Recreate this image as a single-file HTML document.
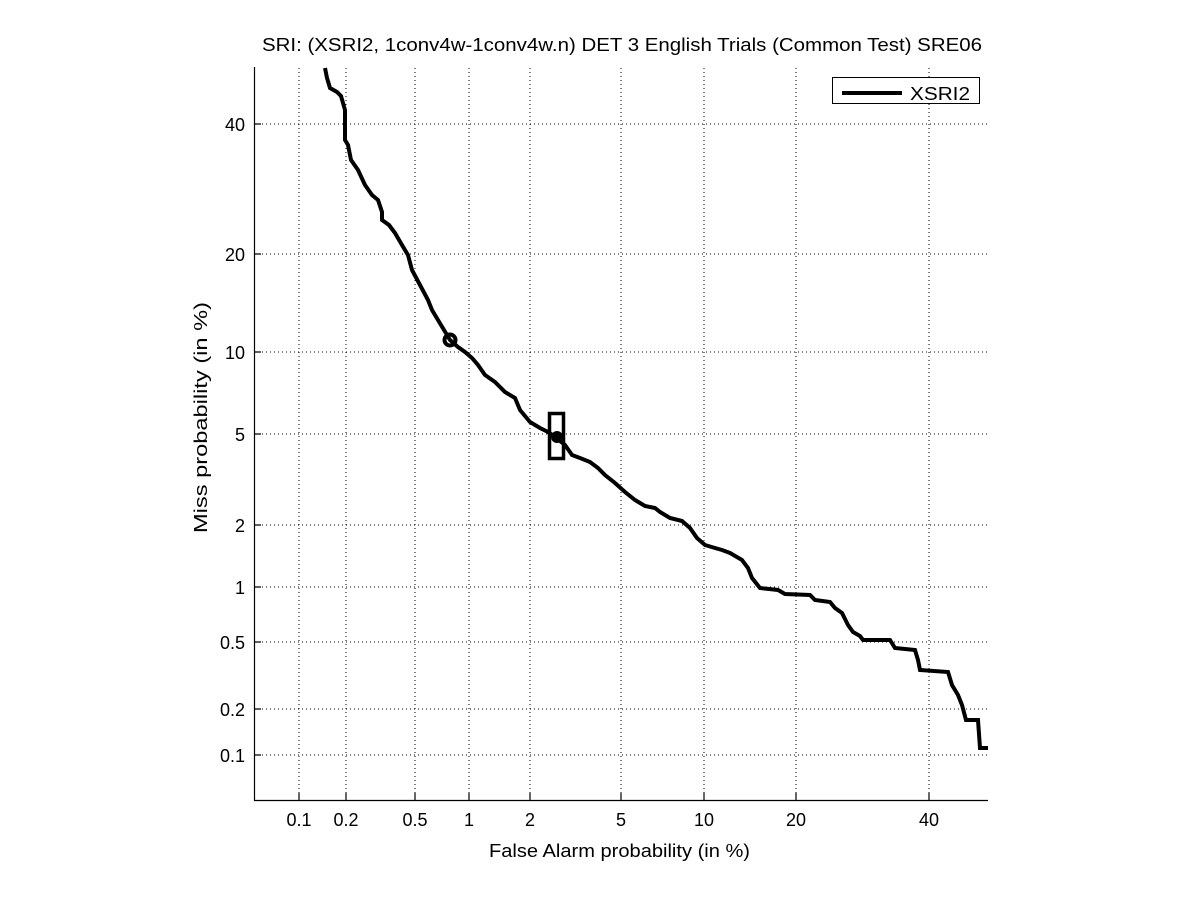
<!DOCTYPE html>
<html><head><meta charset="utf-8"><style>body{margin:0;background:#fff}svg{display:block}text{font-family:"Liberation Sans",sans-serif;fill:#000}</style></head>
<body>
<svg width="1201" height="900" viewBox="0 0 1201 900">
<g stroke="#000" stroke-width="1" stroke-dasharray="1,3">
<line x1="299" y1="68" x2="299" y2="800"/><line x1="346" y1="68" x2="346" y2="800"/><line x1="415" y1="68" x2="415" y2="800"/><line x1="469" y1="68" x2="469" y2="800"/><line x1="530" y1="68" x2="530" y2="800"/><line x1="621" y1="68" x2="621" y2="800"/><line x1="704" y1="68" x2="704" y2="800"/><line x1="796" y1="68" x2="796" y2="800"/><line x1="929" y1="68" x2="929" y2="800"/>
<line x1="254" y1="124" x2="988" y2="124"/><line x1="254" y1="254" x2="988" y2="254"/><line x1="254" y1="352" x2="988" y2="352"/><line x1="254" y1="434" x2="988" y2="434"/><line x1="254" y1="525" x2="988" y2="525"/><line x1="254" y1="587" x2="988" y2="587"/><line x1="254" y1="642" x2="988" y2="642"/><line x1="254" y1="709" x2="988" y2="709"/><line x1="254" y1="755" x2="988" y2="755"/>
</g>
<g stroke="#000" stroke-width="1.2" fill="none">
<path d="M254.5 67V800.5H988"/>
<path d="M254 124h7M254 254h7M254 352h7M254 434h7M254 525h7M254 587h7M254 642h7M254 709h7M254 755h7"/>
<path d="M299 800v-7M346 800v-7M415 800v-7M469 800v-7M530 800v-7M621 800v-7M704 800v-7M796 800v-7M929 800v-7"/>
</g>
<g font-size="18" text-anchor="end">
<text x="245" y="131">40</text><text x="245" y="261">20</text><text x="245" y="359">10</text><text x="245" y="441">5</text><text x="245" y="532">2</text><text x="245" y="594">1</text><text x="245" y="649">0.5</text><text x="245" y="716">0.2</text><text x="245" y="762">0.1</text>
</g>
<g font-size="18" text-anchor="middle">
<text x="299" y="826">0.1</text><text x="346" y="826">0.2</text><text x="415" y="826">0.5</text><text x="469" y="826">1</text><text x="530" y="826">2</text><text x="621" y="826">5</text><text x="704" y="826">10</text><text x="796" y="826">20</text><text x="929" y="826">40</text>
</g>
<text x="489" y="857" font-size="18" textLength="261" lengthAdjust="spacingAndGlyphs">False Alarm probability (in %)</text>
<text x="262" y="51" font-size="18" textLength="720" lengthAdjust="spacingAndGlyphs">SRI: (XSRI2, 1conv4w-1conv4w.n) DET 3 English Trials (Common Test) SRE06</text>
<text transform="translate(207,533) rotate(-90)" font-size="18" textLength="231" lengthAdjust="spacingAndGlyphs">Miss probability (in %)</text>
<polyline fill="none" stroke="#000" stroke-width="4" stroke-linejoin="miter" points="325,68 327,78 330,88 337,92 341,96 345,110 345,140 348,145 351,160 358,170 365,185 372,195 378,200 382,212 382,220 389,225 395,233 402,245 408,255 412,270 420,285 428,300 432,310 438,320 444,330 450,340 458,347 465,352 472,358 478,365 485,375 495,382 505,392 515,398 520,410 530,422 540,428 548,432 555,437 565,445 572,455 580,458 590,462 598,468 605,475 615,483 625,492 635,500 645,506 655,508 660,512 670,518 682,521 690,528 697,538 705,545 715,548 722,550 730,553 742,560 748,568 752,578 760,588 778,590 785,594 810,595 815,600 830,602 835,608 842,613 848,625 853,632 860,636 863,640 890,640 895,648 915,650 918,660 920,670 948,672 952,685 958,695 962,705 966,720 978,720 980,748 988,748"/>
<circle cx="450" cy="340" r="5.5" fill="none" stroke="#000" stroke-width="4"/>
<rect x="549.5" y="413.5" width="14" height="45" fill="none" stroke="#000" stroke-width="3.5"/>
<circle cx="557" cy="437" r="6" fill="#000"/>
<rect x="832.5" y="77.5" width="147" height="26" fill="#fff" stroke="#000" stroke-width="1"/>
<line x1="842" y1="93" x2="902" y2="93" stroke="#000" stroke-width="4"/>
<text x="910" y="100" font-size="18" textLength="60" lengthAdjust="spacingAndGlyphs">XSRI2</text>
</svg>
</body></html>
